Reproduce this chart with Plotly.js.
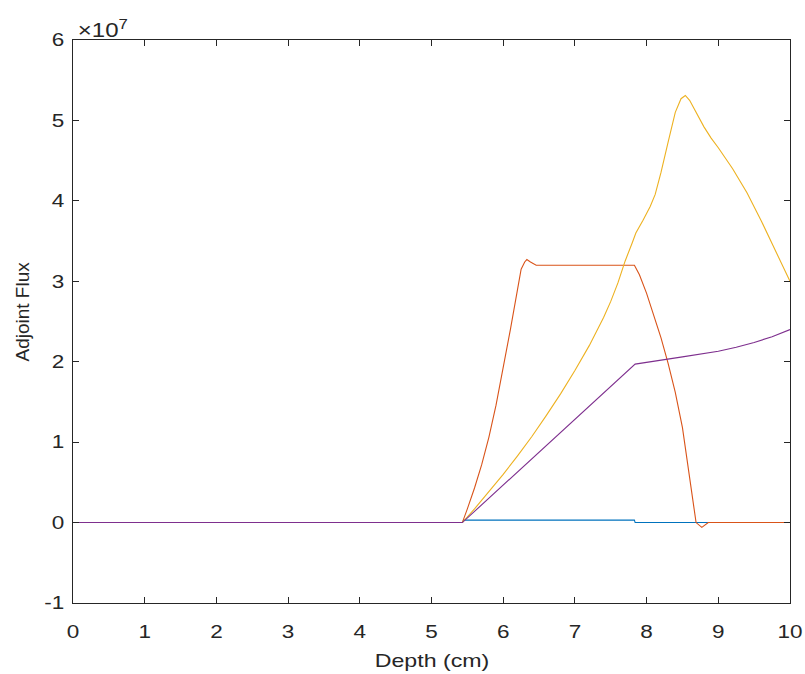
<!DOCTYPE html>
<html>
<head>
<meta charset="utf-8">
<script src="https://cdn.plot.ly/plotly-3.0.1.min.js"></script>
<style>html,body{margin:0;padding:0;background:#fff;}#chart{width:805px;height:674px;}</style>
</head>
<body>
<div id="chart"></div>
<script>
// Adjoint flux values in units of 1e7
const blueX = [0, 5.43, 5.45, 7.83, 7.84, 10];
const blueY = [0, 0, 0.03, 0.03, 0, 0];

const orangeX = [0, 5.43, 5.5, 5.6, 5.7, 5.8, 5.9, 6.0, 6.1, 6.2, 6.25, 6.3, 6.33, 6.38, 6.46, 7.83, 7.9, 8.0, 8.1, 8.2, 8.3, 8.4, 8.5, 8.56, 8.63, 8.69, 8.77, 8.86, 10];
const orangeY = [0, 0, 0.17, 0.43, 0.72, 1.06, 1.46, 1.92, 2.4, 2.9, 3.15, 3.24, 3.27, 3.24, 3.2, 3.2, 3.08, 2.85, 2.58, 2.3, 1.98, 1.62, 1.18, 0.82, 0.40, 0, -0.06, 0, 0];

const yellowX = [0, 5.43, 5.6, 5.8, 6.0, 6.2, 6.4, 6.6, 6.8, 7.0, 7.2, 7.4, 7.5, 7.6, 7.7, 7.8, 7.85, 7.95, 8.05, 8.12, 8.2, 8.3, 8.4, 8.48, 8.54, 8.6, 8.7, 8.8, 8.9, 9.0, 9.2, 9.4, 9.6, 9.8, 10];
const yellowY = [0, 0, 0.17, 0.38, 0.60, 0.83, 1.07, 1.33, 1.60, 1.89, 2.20, 2.55, 2.75, 2.98, 3.25, 3.48, 3.6, 3.76, 3.93, 4.08, 4.35, 4.73, 5.10, 5.27, 5.31, 5.25, 5.09, 4.92, 4.78, 4.66, 4.40, 4.10, 3.75, 3.38, 3.0];

const purpleX = [0, 5.43, 7.84, 8.0, 8.5, 9.0, 9.25, 9.5, 9.75, 10];
const purpleY = [0, 0, 1.97, 1.99, 2.06, 2.13, 2.18, 2.24, 2.31, 2.40];

const xTicks = [0,1,2,3,4,5,6,7,8,9,10];
const yTicks = [-1,0,1,2,3,4,5,6];
const xTitle = 'Depth (cm)';
const yTitle = 'Adjoint Flux';
const exponentLabel = '×10<sup>7</sup>';

const colors = ['#0072BD', '#D95319', '#EDB120', '#7E2F8E'];
const series = [[blueX, blueY], [orangeX, orangeY], [yellowX, yellowY], [purpleX, purpleY]];

const FONT = 'Liberation Sans, Arial, Helvetica, sans-serif';
const INK = '#262626';

const traces = series.map((s, i) => ({
  x: s[0], y: s[1], type: 'scatter', mode: 'lines',
  line: {color: colors[i], width: 1.1}, hoverinfo: 'skip', showlegend: false
}));

const axisCommon = {
  showline: true, linecolor: INK, linewidth: 1, mirror: 'ticks',
  ticks: 'inside', ticklen: 6, tickcolor: INK, tickwidth: 1,
  showgrid: false, zeroline: false,
  tickfont: {family: FONT, size: 18, color: INK}
};

const layout = {
  width: 805, height: 674,
  margin: {l: 73, r: 15, t: 40, b: 71},
  paper_bgcolor: '#fff', plot_bgcolor: '#fff',
  xaxis: Object.assign({}, axisCommon, {
    range: [0, 10], tickvals: xTicks, ticktext: xTicks.map(String), ticklabelstandoff: 12
  }),
  yaxis: Object.assign({}, axisCommon, {
    range: [-1, 6], tickvals: yTicks, ticktext: yTicks.map(String), ticklabelstandoff: 4
  }),
  annotations: [
    {xref: 'paper', yref: 'paper', x: 0, y: 1, xanchor: 'left', yanchor: 'bottom',
     xshift: 7, yshift: -3, text: exponentLabel, showarrow: false,
     font: {family: FONT, size: 20, color: INK}},
    {xref: 'paper', yref: 'paper', x: 0.5, y: 0, xanchor: 'center', yanchor: 'middle',
     yshift: -57, text: xTitle, showarrow: false,
     font: {family: FONT, size: 19, color: INK}},
    {xref: 'paper', yref: 'paper', x: 0, y: 0.5, xanchor: 'center', yanchor: 'middle',
     xshift: -51, yshift: 10, textangle: -90, text: yTitle, showarrow: false,
     font: {family: FONT, size: 19, color: INK}}
  ]
};

Plotly.newPlot('chart', traces, layout, {displayModeBar: false, staticPlot: true}).then(gd => {
  // The reference's text is horizontally widened; stretch horizontal labels to match.
  const stretch = (sel, k) => gd.querySelectorAll(sel).forEach(t => {
    const w = t.getComputedTextLength();
    if (w > 0) {
      t.setAttribute('textLength', (w * k).toFixed(2));
      t.setAttribute('lengthAdjust', 'spacingAndGlyphs');
    }
  });
  stretch('.xtick text', 1.25);
  stretch('.ytick text', 1.25);
  stretch('.annotation[data-index="0"] .annotation-text', 1.2);
  stretch('.annotation[data-index="1"] .annotation-text', 1.22);
});
</script>
</body>
</html>
